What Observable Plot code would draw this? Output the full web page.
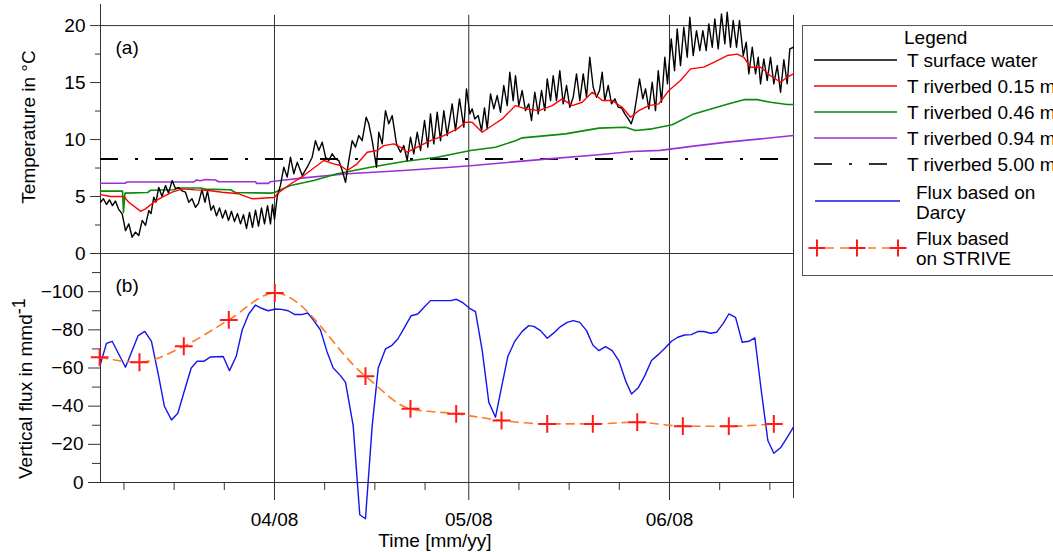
<!DOCTYPE html>
<html><head><meta charset="utf-8">
<script src="https://cdn.jsdelivr.net/npm/d3@7"></script>
<script src="https://cdn.jsdelivr.net/npm/@observablehq/plot@0.6"></script>
<style>
html,body{margin:0;padding:0;background:#fff;}
#chart{position:relative;width:1053px;height:552px;overflow:hidden;font-family:"Liberation Sans",Arial,sans-serif;}
#chart svg{position:absolute;left:0;}
</style></head><body><div id="chart"></div>
<script>
// time is given as days since 2008-03-01 00:00 (UTC)
const BASE = Date.UTC(2008, 2, 1);
const toDate = d => new Date(BASE + d * 864e5);
const xStart = 4.13, xEnd = 111.15;
const monthDays = [31, 61, 92];               // 04/08, 05/08, 06/08
const minorDays = [7.75, 15.5, 23.25, 38.75, 46.5, 54.25, 68.75, 76.5, 84.25, 99.75, 107.5];
const tempTicks = [0, 5, 10, 15, 20];
const tempMinor = [2.5, 7.5, 12.5, 17.5];
const fluxTicks = [0, -20, -40, -60, -80, -100];
const fluxMinor = [-10, -30, -50, -70, -90, -110];
const seriesNames = ["T surface water", "T riverbed 0.15 m", "T riverbed 0.46 m", "T riverbed 0.94 m", "T riverbed 5.00 m", "Flux based on|Darcy", "Flux based|on STRIVE"];

const surfaceWater = [[4.13,4.5],[4.59,4.8],[5.05,4.3],[5.52,4.7],[5.98,4.2],[6.44,4.6],[6.91,3.9],[7.48,3.48],[7.99,2.0],[8.50,2.6],[9.02,1.43],[9.53,1.87],[10.04,1.58],[10.57,2.9],[11.08,2.46],[11.59,3.77],[11.93,3.5],[12.36,4.94],[12.70,4.5],[13.13,5.8],[13.63,5.0],[14.17,5.96],[14.63,5.3],[15.20,6.4],[15.71,5.7],[16.17,5.8],[16.71,5.5],[17.25,5.38],[17.76,4.5],[18.26,4.8],[18.80,4.06],[19.26,4.4],[19.80,5.6],[20.27,4.5],[20.65,5.5],[21.19,3.8],[21.58,4.2],[22.04,3.3],[22.51,4.0],[22.97,3.1],[23.43,3.8],[23.90,2.9],[24.36,3.7],[24.82,2.8],[25.29,3.5],[25.75,2.6],[26.21,3.4],[26.68,2.2],[27.14,3.6],[27.60,2.3],[28.07,3.8],[28.53,2.4],[28.99,4.0],[29.46,2.6],[29.92,4.2],[30.38,2.6],[30.69,4.3],[31.00,3.0],[31.42,5.0],[31.93,6.0],[32.44,7.57],[32.96,6.7],[33.47,8.45],[33.98,7.0],[34.51,8.0],[35.28,6.84],[36.05,7.57],[36.82,8.45],[37.33,9.9],[37.84,9.04],[38.37,9.77],[38.88,8.45],[39.39,8.16],[39.91,8.75],[40.42,8.3],[40.93,8.16],[41.46,7.28],[41.97,6.25],[42.47,8.16],[43.00,9.9],[43.51,9.33],[44.02,10.35],[44.54,9.9],[45.16,11.96],[45.56,11.38],[46.09,9.9],[46.75,7.57],[47.11,10.64],[47.63,9.62],[48.14,12.54],[48.65,11.38],[49.18,12.1],[49.84,9.62],[50.46,8.89],[50.97,9.47],[51.49,8.16],[52.00,10.2],[52.51,8.75],[53.04,10.64],[53.55,9.04],[54.17,11.67],[54.68,9.33],[55.09,12.25],[55.60,9.62],[56.13,12.4],[56.64,9.9],[57.15,12.54],[57.67,10.35],[58.44,13.13],[58.95,10.79],[59.57,13.57],[60.24,11.08],[60.65,14.45],[61.16,12.25],[61.53,12.69],[61.93,11.81],[62.46,12.1],[62.97,10.79],[63.43,12.78],[63.85,10.94],[64.36,14.0],[64.87,12.69],[65.39,13.86],[65.90,12.4],[66.41,14.74],[66.94,12.98],[67.34,15.9],[67.86,13.42],[68.22,15.6],[68.73,12.98],[69.25,14.3],[69.76,12.54],[70.27,13.13],[70.69,11.67],[71.20,14.15],[71.73,12.25],[72.24,14.3],[72.75,12.54],[73.12,15.32],[73.63,13.42],[74.04,15.6],[74.55,13.42],[75.06,16.05],[75.59,13.13],[76.10,14.74],[76.61,12.83],[77.13,13.71],[77.64,15.76],[78.15,13.42],[78.68,15.76],[79.19,13.71],[79.69,17.22],[80.22,14.59],[80.73,13.71],[81.19,14.3],[81.61,15.9],[82.01,13.42],[82.54,14.74],[83.05,13.13],[83.56,13.57],[84.08,12.83],[84.59,12.78],[85.10,12.25],[85.63,11.81],[86.09,11.38],[86.49,12.1],[86.91,13.57],[87.37,15.32],[87.88,13.57],[88.30,14.45],[88.81,12.69],[89.33,15.03],[89.84,12.54],[90.26,16.05],[90.77,13.27],[91.28,17.22],[91.69,14.89],[92.27,18.83],[92.78,16.05],[93.19,19.71],[93.70,16.49],[94.21,19.85],[94.74,17.22],[95.14,20.73],[95.66,17.37],[96.17,19.56],[96.68,17.81],[97.15,19.56],[97.67,17.81],[98.07,20.15],[98.60,18.1],[99.00,20.59],[99.52,17.96],[100.03,21.02],[100.55,18.4],[100.91,21.17],[101.42,18.1],[101.84,20.44],[102.35,18.1],[102.81,20.44],[103.39,17.37],[103.85,18.54],[104.25,15.76],[104.78,18.1],[105.29,15.76],[105.70,17.22],[106.06,14.89],[106.57,17.08],[107.09,15.18],[107.60,17.22],[108.11,14.89],[108.64,16.49],[109.15,14.15],[109.66,17.0],[110.18,14.89],[110.58,17.96],[111.15,18.1]];

const riverbed015 = [[4.13,5.17],[5.67,5.0],[7.73,5.0],[8.50,4.5],[10.04,3.83],[10.31,3.7],[11.08,3.92],[12.36,4.5],[13.66,4.94],[15.20,5.38],[16.75,5.67],[18.80,5.58],[20.85,5.53],[22.92,5.38],[25.49,5.24],[27.56,4.8],[30.12,4.89],[31.0,4.9],[31.42,5.24],[33.47,6.1],[35.53,6.84],[37.59,7.72],[38.61,8.16],[40.16,7.87],[41.19,7.72],[42.23,7.28],[43.77,7.87],[45.32,8.89],[46.86,9.04],[47.88,9.47],[49.42,9.62],[50.46,9.33],[51.49,8.89],[53.04,9.33],[55.09,9.9],[57.15,10.35],[59.22,10.94],[60.50,11.52],[61.53,11.52],[63.08,10.64],[64.62,11.23],[66.17,11.81],[68.22,12.98],[69.76,12.69],[71.82,12.54],[73.89,12.98],[75.43,13.57],[76.98,12.98],[78.52,13.27],[80.07,14.15],[81.61,13.42],[83.15,13.42],[84.70,12.83],[85.98,11.96],[87.26,12.54],[88.81,12.98],[90.35,13.13],[91.90,14.3],[93.70,15.18],[95.25,16.2],[97.30,16.35],[98.85,16.78],[100.91,17.37],[102.46,17.5],[103.48,17.22],[104.51,16.35],[106.06,16.35],[107.60,15.6],[109.15,15.03],[110.18,15.47],[111.15,15.76]];

const riverbed046 = [[4.13,5.47],[7.53,5.47],[7.68,3.6],[7.91,5.3],[11.39,5.35],[11.85,5.55],[15.40,5.6],[16.17,5.75],[19.57,5.75],[20.34,5.65],[24.20,5.6],[24.98,5.35],[30.38,5.3],[31.0,5.35],[33.47,5.96],[37.07,6.4],[40.68,7.0],[45.83,7.57],[50.97,8.07],[56.13,8.45],[61.27,9.04],[65.13,9.33],[68.22,9.9],[69.25,10.15],[75.94,10.5],[81.09,11.0],[85.21,11.08],[86.75,10.8],[89.33,10.94],[92.42,11.3],[95.76,12.25],[100.91,13.1],[103.48,13.5],[105.55,13.5],[107.60,13.27],[110.18,13.07],[111.15,13.07]];

const riverbed094 = [[4.13,6.17],[7.99,6.17],[8.15,6.27],[18.49,6.27],[18.96,6.45],[19.57,6.38],[20.34,6.5],[21.89,6.45],[22.35,6.3],[28.07,6.3],[28.22,6.15],[30.07,6.15],[30.38,6.3],[31.93,6.4],[35.48,6.64],[42.23,7.0],[50.92,7.28],[58.18,7.57],[61.73,7.72],[65.59,7.92],[73.32,8.3],[81.04,8.66],[86.24,8.95],[90.61,9.05],[95.71,9.42],[100.91,9.77],[106.06,10.06],[111.15,10.35]];

const riverbed500 = [8.3];

const fluxDarcy = [[4.13,-62.1],[5.05,-72.9],[5.93,-74],[7.99,-60.4],[9.95,-77],[10.97,-79.2],[12.0,-74],[13.04,-56.9],[14.01,-39.8],[15.09,-32.8],[16.07,-36.3],[17.1,-48.2],[18.14,-60],[19.06,-63.5],[20.08,-63.5],[21.12,-65.8],[23.08,-66],[24.05,-58.6],[25.08,-66],[26.01,-79.9],[27.03,-88.3],[28.07,-93],[28.99,-91.3],[30.03,-90],[31.15,-90.9],[32.08,-90.7],[33.12,-90],[34.14,-88],[35.17,-88],[36.14,-88.8],[37.07,-84.8],[38.10,-79.9],[39.14,-68.2],[40.07,-60],[41.19,-56],[41.97,-52.5],[43.15,-29.8],[44.17,16.9],[45.05,19],[46.09,-29.8],[47.02,-60],[48.14,-70],[49.07,-71.7],[50.04,-75.2],[51.08,-81.3],[52.11,-87.4],[53.13,-88.3],[54.17,-92.1],[55.09,-95.3],[58.18,-95.3],[59.11,-96],[60.14,-94.1],[61.12,-91.3],[62.04,-89.5],[63.08,-69.1],[64.10,-42],[65.13,-34.2],[66.17,-51.7],[67.03,-66],[68.07,-73.8],[69.25,-79.2],[70.27,-82.2],[71.05,-81.8],[72.08,-79.6],[73.12,-75.6],[74.14,-78.4],[75.17,-81.7],[76.20,-83.9],[77.13,-84.8],[78.15,-83.9],[79.19,-79.6],[80.16,-72.1],[81.09,-69.1],[82.12,-71.2],[83.15,-69.1],[84.17,-63.9],[85.21,-53.4],[86.14,-46.4],[87.17,-49.6],[88.19,-56],[89.22,-63.9],[90.26,-67],[91.28,-70.3],[92.31,-74],[93.29,-76.1],[94.32,-77.3],[95.36,-77.5],[96.37,-79.1],[97.30,-79.1],[98.34,-78.2],[99.26,-78.7],[100.30,-83.4],[101.16,-88.3],[102.20,-86.5],[103.23,-73.5],[104.25,-74],[105.18,-75.8],[106.17,-48.2],[107.19,-22],[108.11,-15.3],[109.15,-18.2],[110.18,-23.7],[111.14,-29]];

const fluxStrive = [[4.0,-65.6],[10.15,-63],[16.99,-71.4],[23.94,-85.2],[31.05,-99.3],[45.05,-55.7],[52.0,-38.6],[59.06,-36],[66.06,-32.5],[73.12,-30.7],[80.16,-30.7],[87.02,-31.6],[94.06,-29.5],[101.16,-29.5],[108.11,-30.7]];

const colors = {surface: "#000000", r015: "#ff0000", r046: "#0a8a0a", r094: "#9b30d0", r500: "#000000", darcy: "#1414ee", strive: "#ff7a20", cross: "#ff1a1a", axis: "#333333"};
const FONT = '"Liberation Sans", Arial, sans-serif';
const style = {fontFamily: FONT, fontSize: "19px", background: "transparent", overflow: "visible"};
const xDomain = [toDate(xStart), toDate(xEnd)];
const X = d => toDate(d[0]);
const Y = d => d[1];
const majorLines = monthDays.concat([xEnd]).map(toDate);

const chart = document.getElementById("chart");

// ---------- panel (a) ----------
const topPlot = Plot.plot({
  width: 1053, height: 260,
  marginLeft: 100, marginRight: 260, marginTop: 4, marginBottom: 7,
  style,
  x: {type: "utc", domain: xDomain, axis: null},
  y: {domain: [0, 21.85]},
  marks: [
    Plot.ruleY([0, 20], {stroke: colors.axis}),
    Plot.ruleX(majorLines, {y1: 0, y2: 20.9, stroke: colors.axis}),
    Plot.ruleX([toDate(xStart)], {y1: 0, y2: 21.85, stroke: colors.axis}),
    Plot.ruleY(riverbed500, {stroke: colors.r500, strokeWidth: 2, strokeDasharray: "18,17,3,17"}),
    Plot.line(riverbed094, {x: X, y: Y, stroke: colors.r094, strokeWidth: 1.6}),
    Plot.line(riverbed046, {x: X, y: Y, stroke: colors.r046, strokeWidth: 1.6}),
    Plot.line(surfaceWater, {x: X, y: Y, stroke: colors.surface, strokeWidth: 1.4}),
    Plot.line(riverbed015, {x: X, y: Y, stroke: colors.r015, strokeWidth: 1.4}),
    Plot.axisY(tempTicks, {tickSize: 10, tickPadding: 5, label: null, stroke: colors.axis}),
    Plot.axisY(tempMinor, {tickSize: 5, tickFormat: () => "", label: null, stroke: colors.axis}),
    Plot.text(["(a)"], {frameAnchor: "top-left", textAnchor: "start", lineAnchor: "middle", dx: 15, dy: 43})
  ]
});
topPlot.style.top = "0px";
chart.appendChild(topPlot);
d3.select(topPlot).append("text")
  .attr("transform", "translate(35,127) rotate(-90)")
  .attr("text-anchor", "middle").attr("font-family", FONT).attr("font-size", 19).attr("fill", "#000")
  .text("Temperature in °C");

// ---------- panel (b) ----------
const botPlot = Plot.plot({
  width: 1053, height: 299,
  marginLeft: 100, marginRight: 260, marginTop: 0, marginBottom: 70,
  style,
  x: {type: "utc", domain: xDomain},
  y: {domain: [0, -120]},
  marks: [
    Plot.ruleY([0], {stroke: colors.axis}),
    Plot.ruleX(majorLines, {y1: 0, y2: -120, stroke: colors.axis}),
    Plot.ruleX([toDate(xStart)], {y1: 0, y2: -120, stroke: colors.axis}),
    Plot.axisY(fluxTicks, {tickSize: 12, tickPadding: 5, label: null, stroke: colors.axis}),
    Plot.axisY(fluxMinor, {tickSize: 8, tickFormat: () => "", label: null, stroke: colors.axis}),
    Plot.axisX(monthDays.map(toDate), {tickSize: 18, tickPadding: 12, tickFormat: d3.utcFormat("%m/%y"), label: null, stroke: colors.axis}),
    Plot.axisX([toDate(xEnd)], {tickSize: 16, tickFormat: () => "", label: null, stroke: colors.axis}),
    Plot.axisX(minorDays.map(toDate), {tickSize: 8, tickFormat: () => "", label: null, stroke: colors.axis}),
    Plot.line(fluxDarcy, {x: X, y: Y, stroke: colors.darcy, strokeWidth: 1.4}),
    Plot.line(fluxStrive, {x: X, y: Y, curve: "monotone-x", stroke: colors.strive, strokeWidth: 1.6, strokeDasharray: "8,6"}),
    Plot.dot(fluxStrive, {x: X, y: Y, symbol: "plus", r: 5.8, stroke: colors.cross, strokeWidth: 2}),
    Plot.text(["(b)"], {frameAnchor: "top-left", textAnchor: "start", lineAnchor: "middle", dx: 15, dy: 32})
  ]
});
botPlot.style.top = "253px";
chart.appendChild(botPlot);
const fl = d3.select(botPlot).append("text")
  .attr("transform", "translate(32,226) rotate(-90)")
  .attr("text-anchor", "start").attr("font-family", FONT).attr("font-size", 19).attr("fill", "#000");
fl.append("tspan").text("Vertical flux in mmd");
fl.append("tspan").attr("dy", -7).attr("font-size", 18).text("-1");
d3.select(botPlot).append("text")
  .attr("x", 435).attr("y", 294)
  .attr("text-anchor", "middle").attr("font-family", FONT).attr("font-size", 19).attr("fill", "#000")
  .text("Time [mm/yy]");

// ---------- legend ----------
const leg = d3.create("svg").attr("width", 1053).attr("height", 300)
  .style("top", "0px").style("overflow", "hidden")
  .attr("font-family", FONT).attr("font-size", 19);
leg.append("rect").attr("x", 802.5).attr("y", 25.5).attr("width", 300).attr("height", 250)
  .attr("fill", "#fff").attr("stroke", "#555");
leg.append("text").attr("x", 904).attr("y", 44).text("Legend");
const legItems = [
  {name: seriesNames[0], color: colors.surface, dash: null, y: 60, w: 1.4},
  {name: seriesNames[1], color: colors.r015, dash: null, y: 86, w: 1.4},
  {name: seriesNames[2], color: colors.r046, dash: null, y: 112, w: 1.6},
  {name: seriesNames[3], color: colors.r094, dash: null, y: 138, w: 1.6},
  {name: seriesNames[4], color: "#333", dash: "18,17,3,17", y: 164, w: 2}
];
for (const it of legItems) {
  leg.append("line").attr("x1", 814).attr("x2", 897).attr("y1", it.y).attr("y2", it.y)
    .attr("stroke", it.color).attr("stroke-width", it.w).attr("stroke-dasharray", it.dash);
  leg.append("text").attr("x", 907).attr("y", it.y + 7).text(it.name);
}
leg.append("line").attr("x1", 815).attr("x2", 900).attr("y1", 201).attr("y2", 201)
  .attr("stroke", colors.darcy).attr("stroke-width", 1.4);
seriesNames[5].split("|").forEach((s, i) => leg.append("text").attr("x", 916).attr("y", 199 + 20 * i).text(s));
leg.append("line").attr("x1", 817).attr("x2", 898).attr("y1", 248).attr("y2", 248)
  .attr("stroke", colors.strive).attr("stroke-width", 1.6).attr("stroke-dasharray", "8,6").attr("stroke-dashoffset", -9);
for (const cx of [817, 857, 898]) {
  leg.append("path").attr("d", `M${cx - 8.5},248H${cx + 8.5}M${cx},239.5V256.5`)
    .attr("stroke", colors.cross).attr("stroke-width", 2).attr("fill", "none");
}
seriesNames[6].split("|").forEach((s, i) => leg.append("text").attr("x", 916).attr("y", 245 + 20 * i).text(s));
chart.appendChild(leg.node());
</script></body></html>
